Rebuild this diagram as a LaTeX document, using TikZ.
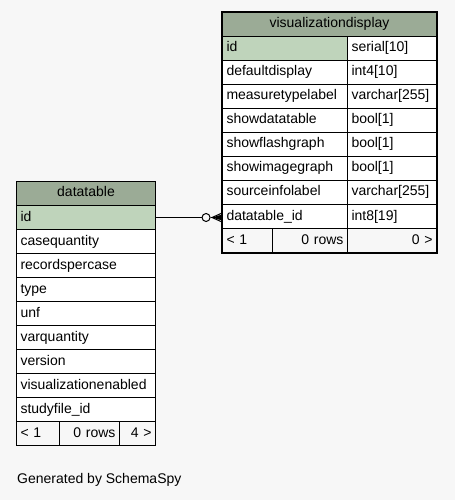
\documentclass[tikz,border=0pt]{standalone}
\usepackage{fontspec}
\setmainfont{Liberation Sans}
\usetikzlibrary{backgrounds}
\definecolor{pagebg}{HTML}{F7F7F7}
\definecolor{hdr}{HTML}{9BAB96}
\definecolor{pkfill}{HTML}{BFD4BB}
\definecolor{shadowgray}{HTML}{C8C8C8}
\newcommand{\tabfont}{\fontsize{14bp}{16bp}\selectfont}
\begin{document}
\begin{tikzpicture}[x=1bp,y=-1bp,
  base/.style={draw=black, line width=1bp, anchor=north west, inner xsep=4bp, inner ysep=0pt,
    minimum height=24bp, font=\tabfont, text height=10bp, text depth=3bp},
  titlecell/.style={base, fill=hdr, minimum width=#1, inner xsep=0pt, align=center},
  cellL/.style={base, fill=white, text width=#1, align=left},
  pkcell/.style={base, fill=pkfill, text width=#1, align=left},
  footL/.style={base, fill=pagebg, text width=#1, align=left},
  footR/.style={base, fill=pagebg, text width=#1, align=right},
  thickframe/.style={draw=black, line width=2.4bp},
  shadowbox/.style={fill=shadowgray},
  conn/.style={draw=black, line width=1bp}
]
\useasboundingbox[fill=pagebg] (0,0) rectangle (455,500);

% ---------------- visualizationdisplay ----------------
\node[titlecell=214bp] (vdt) at (222,12) {visualizationdisplay};
\node[pkcell=117bp] (vd1) at (222,36) {id};
\node[cellL=81bp] (vd1t) at (347,36) {serial[10]};
\node[cellL=117bp] (vd2) at (222,60) {defaultdisplay};
\node[cellL=81bp] (vd2t) at (347,60) {int4[10]};
\node[cellL=117bp] (vd3) at (222,84) {measuretypelabel};
\node[cellL=81bp] (vd3t) at (347,84) {varchar[255]};
\node[cellL=117bp] (vd4) at (222,108) {showdatatable};
\node[cellL=81bp] (vd4t) at (347,108) {bool[1]};
\node[cellL=117bp] (vd5) at (222,132) {showflashgraph};
\node[cellL=81bp] (vd5t) at (347,132) {bool[1]};
\node[cellL=117bp] (vd6) at (222,156) {showimagegraph};
\node[cellL=81bp] (vd6t) at (347,156) {bool[1]};
\node[cellL=117bp] (vd7) at (222,180) {sourceinfolabel};
\node[cellL=81bp] (vd7t) at (347,180) {varchar[255]};
\node[cellL=117bp] (vd8) at (222,204) {datatable\_id};
\node[cellL=81bp] (vd8t) at (347,204) {int8[19]};
\node[footL=42bp] (vdf1) at (222,228) {< 1};
\node[footR=67bp] (vdf2) at (272,228) {0 rows};
\node[footR=81bp] (vdf3) at (347,228) {0 >};
\draw[thickframe] (vdt.north west) rectangle (vdf3.south east);
\begin{scope}[on background layer]
  \fill[shadowbox] ([shift={(2.5,2.5)}]vdt.north west) rectangle ([shift={(2.5,2.5)}]vdf3.south east);
\end{scope}

% ---------------- datatable ----------------
\node[titlecell=139bp] (dtt) at (16,181) {datatable};
\node[pkcell=131bp] (dt1) at (16,205) {id};
\node[cellL=131bp] (dt2) at (16,229) {casequantity};
\node[cellL=131bp] (dt3) at (16,253) {recordspercase};
\node[cellL=131bp] (dt4) at (16,277) {type};
\node[cellL=131bp] (dt5) at (16,301) {unf};
\node[cellL=131bp] (dt6) at (16,325) {varquantity};
\node[cellL=131bp] (dt7) at (16,349) {version};
\node[cellL=131bp] (dt8) at (16,373) {visualizationenabled};
\node[cellL=131bp] (dt9) at (16,397) {studyfile\_id};
\node[footL=35bp] (dtf1) at (16,421) {< 1};
\node[footR=52bp] (dtf2) at (59,421) {0 rows};
\node[footR=28bp] (dtf3) at (119,421) {4 >};
\begin{scope}[on background layer]
  \fill[shadowbox] ([shift={(1.5,1.5)}]dtt.north west) rectangle ([shift={(1.5,1.5)}]dtf3.south east);
\end{scope}

% ---------------- relationship ----------------
\coordinate (cfend) at (dt1.east -| vd8.west);
\node[circle, draw=black, line width=1bp, fill=pagebg, minimum size=8bp, inner sep=0pt] (circ) at ([xshift=-16]cfend) {};
\coordinate (cf) at ([xshift=-10]cfend);
\draw[conn] (dt1.east) -- (circ.west);
\draw[conn] (circ.east) -- (cfend);
\draw[conn] (cf) -- ([yshift=-4.5]cfend);
\draw[conn] (cf) -- ([yshift=4.5]cfend);
\fill[black] (cf) -- ([yshift=-3]cfend) -- ([yshift=3]cfend) -- cycle;

% ---------------- caption ----------------
\node[anchor=west, inner sep=0pt, font=\tabfont] (gen) at (17,480) {Generated by SchemaSpy};
\end{tikzpicture}
\end{document}
